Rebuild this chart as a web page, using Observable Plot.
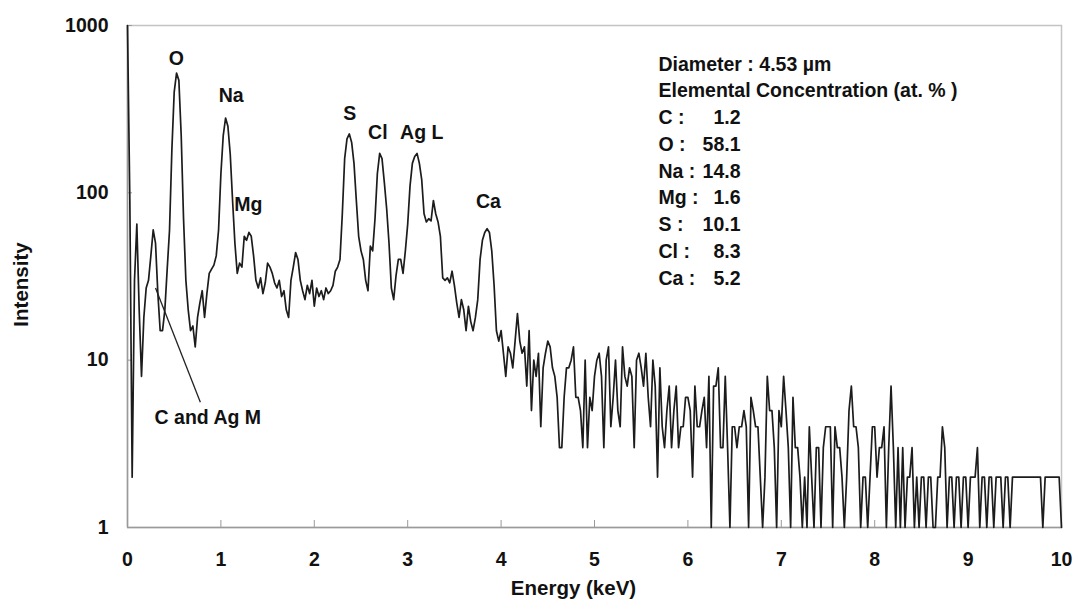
<!DOCTYPE html>
<html>
<head>
<meta charset="utf-8">
<script src="https://cdn.jsdelivr.net/npm/d3@7"></script>
<script src="https://cdn.jsdelivr.net/npm/@observablehq/plot@0.6"></script>
<style>
  html, body { margin: 0; padding: 0; background: #ffffff; }
  #chart svg { display: block; }
</style>
</head>
<body>
<div id="chart"></div>
<script>
// EDX spectrum: counts per channel, channel width 0.025 keV, one array per keV
const channelWidth = 0.025;
const counts_0 = [1000,90,2,30,65,20,8,18,27,30,42,60,50,25,15,15,20,35,60,180,400,520,470,220,70,30,20,15,16,12,18,22,26,18,25,33,35,37,42,60];
const counts_1 = [130,220,280,250,170,90,50,33,38,36,55,52,58,55,42,30,27,31,25,29,38,36,33,29,27,30,24,26,20,18,30,36,44,40,30,26,23,28,25,30];
const counts_2 = [21,27,24,26,23,27,25,26,28,34,36,40,75,160,210,225,200,150,90,55,45,40,30,26,48,45,70,130,172,160,115,80,50,27,23,32,40,40,33,45];
const counts_3 = [65,110,150,165,172,150,120,75,67,70,68,90,75,67,55,31,30,31,29,34,28,22,18,23,20,15,21,17,15,18,23,40,52,58,61,58,45,28,15,13];
const counts_4 = [15,11,8,12,11,9,13,19,13,11,12,7,15,5,10,8,11,4,9,11,13,12,9,8,6,3,3,6,9,9,10,12,6,6,5,3,10,3,6,5];
const counts_5 = [8,10,11,8,3,10,12,4,6,10,5,4,12,8,7,9,8,3,10,11,9,7,11,6,4,10,7,2,9,4,3,5,7,3,5,7,3,4,4,6];
const counts_6 = [6,5,2,7,4,4,5,6,3,8,1,7,7,9,3,3,8,3,1,4,4,3,4,4,5,4,1,6,5,4,4,2,1,2,8,5,5,3,1,5];
const counts_7 = [4,8,5,3,1,6,3,3,2,1,2,1,4,2,1,3,3,1,3,4,4,4,1,4,3,3,2,1,2,5,7,4,4,3,1,2,2,1,2,4];
const counts_8 = [4,2,3,3,4,1,3,7,3,1,3,1,3,1,2,2,3,1,2,1,2,2,1,2,2,1,1,2,2,4,3,1,2,2,1,2,2,1,2,2];
const counts_9 = [1,2,2,2,3,1,2,2,1,2,2,1,2,2,2,1,2,2,1,2,2,2,2,2,2,2,2,2,2,2,2,2,1,2,2,2,2,2,2,2,1];

// Peak labels
const peakNames = ["O", "Na", "Mg", "S", "Cl", "Ag L", "Ca"];
const peakEnergy = [0.524, 1.11, 1.295, 2.38, 2.68, 3.15, 3.865];
const peakLabelY = [635, 382, 85, 298, 230, 230, 89];

// "C and Ag M" annotation
const annotText = "C and Ag M";
const annotFrom = {x: 0.30, y: 27};
const annotTo = {x: 0.78, y: 5.6};
const annotLabel = {x: 0.86, y: 4.55};

// Info box
const diameterText = "Diameter : 4.53 \u00b5m";
const concTitle = "Elemental Concentration (at. % )";
const elements = ["C", "O", "Na", "Mg", "S", "Cl", "Ca"];
const concentration = [1.2, 58.1, 14.8, 1.6, 10.1, 8.3, 5.2];

// Axes ticks
const xTicks = [0, 1, 2, 3, 4, 5, 6, 7, 8, 9, 10];
const yTicks = [1, 10, 100, 1000];

const segments = [counts_0, counts_1, counts_2, counts_3, counts_4, counts_5, counts_6, counts_7, counts_8, counts_9];
const spectrum = segments.flatMap((seg, k) => seg.map((c, i) => ({energy: k + i * channelWidth, counts: c})));
const peaks = peakNames.map((name, i) => ({name, x: peakEnergy[i], y: peakLabelY[i]}));

const leftLines = [diameterText, concTitle, ...elements.map(e => e + " :")].join("\n");
const rightLines = concentration.map(v => v.toFixed(1)).join("\n");

const font = "'Liberation Sans', Arial, Helvetica, sans-serif";
const ink = "#111111";
const boxFont = 19.5;
const rowStep = 26.77;

const chart = Plot.plot({
  width: 1074,
  height: 599,
  marginLeft: 127,
  marginRight: 13,
  marginTop: 25,
  marginBottom: 72,
  style: {fontFamily: font, fontWeight: "bold", fontSize: "19px", color: ink, background: "#ffffff"},
  x: {domain: [0, 10]},
  y: {type: "log", domain: [1, 1000]},
  marks: [
    Plot.frame({stroke: "#c4c4c4", strokeWidth: 1.5}),
    Plot.ruleY([1], {stroke: "#9a9a9a", strokeWidth: 1.5}),
    Plot.ruleX([0], {stroke: "#9a9a9a", strokeWidth: 1.5}),
    Plot.tickX(xTicks, {x: d => d, stroke: "#9a9a9a", insetTop: 495}),
    Plot.tickY(yTicks, {y: d => d, stroke: "#9a9a9a", insetRight: 929}),
    Plot.axisX(xTicks, {tickSize: 0, tickPadding: 25, fontSize: 19.5, fontWeight: "bold", label: null, tickFormat: d => String(d)}),
    Plot.axisY(yTicks, {tickSize: 0, tickPadding: 19, fontSize: 19.5, fontWeight: "bold", label: null, tickFormat: d => String(d)}),
    Plot.line(spectrum, {x: "energy", y: "counts", stroke: "#1c1c1c", strokeWidth: 1.7}),
    Plot.text(peaks, {x: "x", y: "y", text: "name", fontSize: 19.5, fontWeight: "bold", fill: ink}),
    Plot.link([annotFrom], {x1: d => d.x, y1: d => d.y, x2: () => annotTo.x, y2: () => annotTo.y, stroke: "#222", strokeWidth: 1.3}),
    Plot.text([annotLabel], {x: "x", y: "y", text: () => annotText, fontSize: 19.5, fontWeight: "bold", fill: ink}),
    Plot.text([leftLines], {frameAnchor: "top-left", textAnchor: "start", lineAnchor: "top", dx: 531, dy: 26, lineHeight: rowStep / boxFont, fontSize: boxFont, fontWeight: "bold", fill: ink}),
    Plot.text([rightLines], {frameAnchor: "top-left", textAnchor: "end", lineAnchor: "top", dx: 613, dy: 26 + 2 * rowStep, lineHeight: rowStep / boxFont, fontSize: boxFont, fontWeight: "bold", fill: ink}),
    Plot.text(["Intensity"], {frameAnchor: "left", textAnchor: "middle", lineAnchor: "middle", rotate: -90, dx: -106, dy: 8, fontSize: 20.5, fontWeight: "bold", fill: ink}),
    Plot.text(["Energy (keV)"], {frameAnchor: "bottom", textAnchor: "middle", lineAnchor: "middle", dx: -21, dy: 61, fontSize: 20.5, fontWeight: "bold", fill: ink})
  ]
});
document.getElementById("chart").appendChild(chart);
</script>
</body>
</html>
